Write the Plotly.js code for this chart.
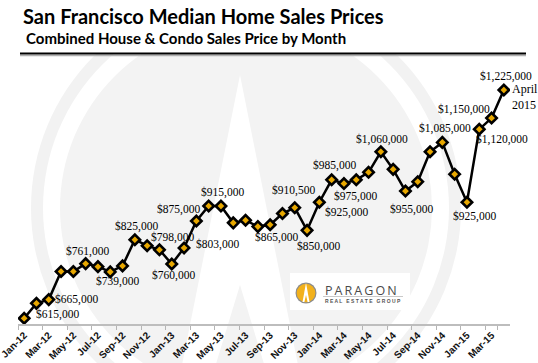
<!DOCTYPE html>
<html>
<head>
<meta charset="utf-8">
<script src="https://cdn.plot.ly/plotly-3.0.1.min.js"></script>
<style>html,body{margin:0;padding:0;background:#fff;}#chart{width:538px;height:363px;}</style>
</head>
<body>
<div id="chart"></div>
<script>
// ---- data ----
const months = ['Jan-12','Feb-12','Mar-12','Apr-12','May-12','Jun-12','Jul-12','Aug-12','Sep-12','Oct-12','Nov-12','Dec-12',
  'Jan-13','Feb-13','Mar-13','Apr-13','May-13','Jun-13','Jul-13','Aug-13','Sep-13','Oct-13','Nov-13','Dec-13',
  'Jan-14','Feb-14','Mar-14','Apr-14','May-14','Jun-14','Jul-14','Aug-14','Sep-14','Oct-14','Nov-14','Dec-14',
  'Jan-15','Feb-15','Mar-15','Apr-15'];
const prices = [615000, 655000, 665000, 740000, 740000, 761000, 753000, 739000, 755000, 825000, 809000, 798000,
  760000, 803000, 875000, 915000, 915000, 870000, 877000, 860000, 865000, 895000, 910500, 850000,
  925000, 985000, 975000, 985000, 1005000, 1060000, 1013000, 955000, 980000, 1060000, 1085000, 1000000,
  925000, 1120000, 1150000, 1225000];
const tickLabels = months.filter((m, i) => i % 2 === 0);
const labeledMonths = ['Jan-12','Mar-12','Jun-12','Aug-12','Oct-12','Dec-12','Jan-13','Feb-13','Mar-13','May-13',
  'Sep-13','Nov-13','Dec-13','Jan-14','Feb-14','Mar-14','Jun-14','Aug-14','Nov-14','Jan-15','Feb-15','Mar-15','Apr-15'];
const titleText = 'San Francisco Median Home Sales Prices';
const subtitleText = 'Combined House &amp; Condo Sales Price by Month';
const lastNote = 'April<br>2015';

// ---- label placement (pixel offsets from the point) ----
const labelOffsets = [[33,4],[28,0],[2,12],[7,-10],[2,13],[13,12],[2,-11],[33,3],[-18,11],[2,13.5],
  [6,-13],[-1,17],[11,-16],[27,-10],[3,14],[12,-13],[1.5,12],[6.5,-18],[2.5,14],[7.5,-14],[23,-10],[-28,9],[2,13]];

// ---- geometry helpers for decorations ----
const L = 18, R = 28, T = 60, B = 39, Wd = 538, Ht = 363;
const PW = Wd - L - R, PH = Ht - T - B;
const px = v => (v - L) / PW;
const py = v => (Ht - B - v) / PH;

const fmt = v => '$' + v.toLocaleString('en-US');

const annotations = labeledMonths.map((m, k) => {
  const i = months.indexOf(m);
  return {x: m, y: prices[i], xref: 'x', yref: 'y', text: fmt(prices[i]), showarrow: false,
    xshift: labelOffsets[k][0], yshift: labelOffsets[k][1],
    font: {family: 'Liberation Serif', size: 11.5, color: '#000'}};
});
annotations.push({x: months[months.length-1], y: prices[prices.length-1], xref:'x', yref:'y', text: lastNote,
  showarrow:false, xanchor:'left', yanchor:'middle', align:'left', xshift: 6, yshift: -7,
  font:{family:'Liberation Serif', size:12, color:'#000'}});
annotations.push({xref:'paper', yref:'paper', x: px(24), y: py(38), xanchor:'left', yanchor:'middle',
  text: subtitleText, showarrow:false, font:{family:'Lato', size:15, weight:'bold', color:'#000'}});
// logo text
annotations.push({xref:'paper', yref:'paper', x: px(323), y: py(290), xanchor:'left', yanchor:'middle',
  text: 'P\u2009A\u2009R\u2009A\u2009G\u2009O\u2009N', showarrow:false, font:{family:'Open Sans', size:12.5, color:'#4a4a4a'}});
annotations.push({xref:'paper', yref:'paper', x: px(323), y: py(301), xanchor:'left', yanchor:'middle',
  text: 'R E A L\u2002 E S T A T E\u2002 G R O U P', showarrow:false, font:{family:'Liberation Sans', size:5, weight:'bold', color:'#555'}});

const circ = (cx, cy, r, fill) => ({type:'circle', xref:'paper', yref:'paper', layer:'below',
  x0: px(cx - r), x1: px(cx + r), y0: py(cy + r), y1: py(cy - r), fillcolor: fill, line:{width:0}});
const path = (pts, fill) => ({type:'path', xref:'paper', yref:'paper', layer:'below',
  path: 'M' + pts.map(p => px(p[0]) + ',' + py(p[1])).join(' L') + ' Z', fillcolor: fill, line:{width:0}});

const shapes = [
  circ(246, 208, 215, '#f2f2f2'),
  circ(246, 208, 203, '#ffffff'),
  circ(246, 208, 186, '#f3f3f3'),
  path([[240,75],[305,400],[175,400]], '#ffffff'),
  path([[240,285],[275,400],[205,400]], '#f3f3f3'),
  {type:'rect', xref:'paper', yref:'paper', layer:'below', x0: px(0), x1: px(538), y0: py(0), y1: py(54), fillcolor:'#ffffff', line:{width:0}},
  {type:'rect', xref:'paper', yref:'paper', layer:'below', x0: px(290), x1: px(410), y0: py(310), y1: py(273), fillcolor:'#ffffff', line:{width:0}},
  {type:'line', xref:'paper', yref:'paper', layer:'above', x0: px(20), x1: px(526), y0: py(55.5), y1: py(55.5), line:{color:'#b0b0b0', width:1.5}},
  {type:'line', xref:'paper', yref:'paper', layer:'above', x0: px(20), x1: px(526), y0: py(53.5), y1: py(53.5), line:{color:'#000', width:2}},
  // logo
  circ(306, 293, 10.5, '#8c8c8c'),
  circ(306, 293, 9.3, '#f2b11c'),
  path([[306,283],[309.5,302],[302.5,302]], '#ffffff'),
  path([[306,295],[307.6,302],[304.4,302]], '#f2b11c'),
  {type:'line', xref:'paper', yref:'paper', layer:'above', x0: px(323), x1: px(403), y0: py(296.5), y1: py(296.5), line:{color:'#bbbbbb', width:0.8}}
];

const trace = {
  x: months, y: prices, type: 'scatter', mode: 'lines+markers',
  line: {color: '#000', width: 2.5},
  marker: {symbol: 'diamond', size: 8, color: '#e8a800', line: {color: '#000', width: 2.6}},
  hoverinfo: 'none'
};

const layout = {
  width: Wd, height: Ht,
  margin: {l: L, r: R, t: T, b: B, pad: 0},
  paper_bgcolor: '#ffffff', plot_bgcolor: 'rgba(0,0,0,0)',
  showlegend: false,
  title: {text: titleText, xref: 'container', yref: 'container', x: 23/538, xanchor: 'left', y: 1 - 17/363, yanchor: 'middle',
    font: {family: 'Lato', size: 20, weight: 'bold', color: '#000'}},
  xaxis: {type: 'category', range: [-0.5, 39.5], tickmode: 'array', tickvals: tickLabels, ticktext: tickLabels,
    tickson: 'boundaries', ticks: 'outside', ticklen: 4, tickcolor: '#b5b5b5', tickwidth: 1,
    showline: true, linecolor: '#bdbdbd', linewidth: 1.5, showgrid: false, zeroline: false, tickangle: -45,
    tickfont: {family: 'Liberation Sans', size: 10, weight: 'bold', color: '#111'}},
  yaxis: {visible: false, range: [599800, 1305100], showgrid: false, zeroline: false},
  annotations: annotations,
  shapes: shapes
};

Plotly.newPlot('chart', [trace], layout, {staticPlot: true, displayModeBar: false});
</script>
</body>
</html>
